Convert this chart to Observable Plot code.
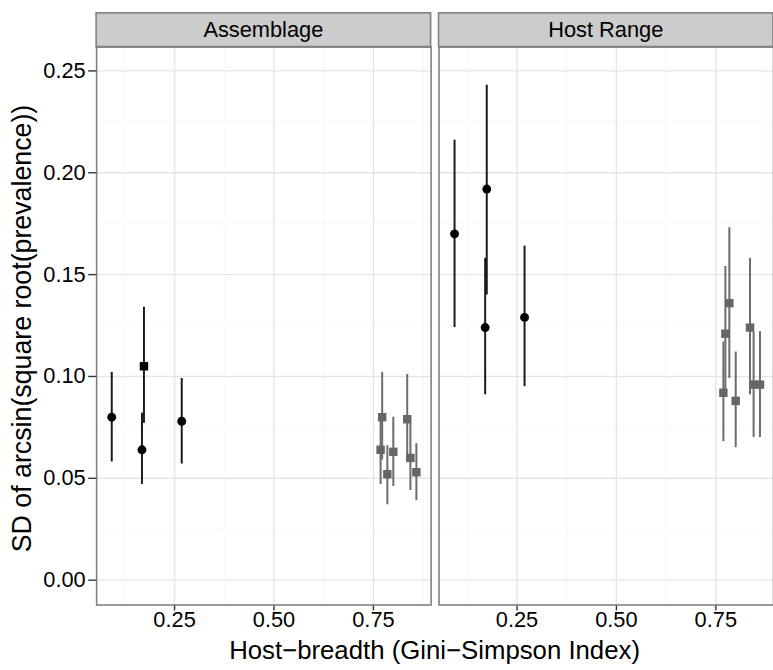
<!DOCTYPE html>
<html>
<head>
<meta charset="utf-8">
<script src="https://cdn.jsdelivr.net/npm/d3@7"></script>
<script src="https://cdn.jsdelivr.net/npm/@observablehq/plot@0.6"></script>
<style>
  html, body { margin: 0; padding: 0; background: #fff; overflow: hidden; }
  #chart { width: 773px; height: 670px; overflow: hidden; }
</style>
</head>
<body>
<div id="chart"></div>
<script>
// Facet panels
const panels = ["Assemblage", "Host Range"];

// Assemblage: narrow host-breadth parasites (black)
const asmDarkX  = [0.092, 0.173, 0.168, 0.268];
const asmDarkY  = [0.080, 0.105, 0.064, 0.078];
const asmDarkLo = [0.058, 0.077, 0.047, 0.057];
const asmDarkHi = [0.102, 0.134, 0.082, 0.099];
const asmDarkShape = ["circle", "square", "circle", "circle"];

// Assemblage: broad host-breadth parasites (grey)
const asmGreyX  = [0.772, 0.768, 0.785, 0.800, 0.835, 0.843, 0.858];
const asmGreyY  = [0.080, 0.064, 0.052, 0.063, 0.079, 0.060, 0.053];
const asmGreyLo = [0.059, 0.047, 0.037, 0.046, 0.058, 0.044, 0.039];
const asmGreyHi = [0.102, 0.078, 0.066, 0.080, 0.101, 0.077, 0.067];

// Host Range: narrow host-breadth parasites (black)
const hostDarkX  = [0.093, 0.174, 0.170, 0.269];
const hostDarkY  = [0.170, 0.192, 0.124, 0.129];
const hostDarkLo = [0.124, 0.140, 0.091, 0.095];
const hostDarkHi = [0.216, 0.243, 0.158, 0.164];
const hostDarkShape = ["circle", "circle", "circle", "circle"];

// Host Range: broad host-breadth parasites (grey)
const hostGreyX  = [0.769, 0.774, 0.784, 0.800, 0.836, 0.845, 0.861];
const hostGreyY  = [0.092, 0.121, 0.136, 0.088, 0.124, 0.096, 0.096];
const hostGreyLo = [0.068, 0.091, 0.099, 0.065, 0.091, 0.070, 0.070];
const hostGreyHi = [0.117, 0.154, 0.173, 0.112, 0.158, 0.122, 0.122];

// Axis ticks
const xTicks = [0.25, 0.50, 0.75];
const xMinor = [0.125, 0.375, 0.625, 0.875];
const yTicks = [0.00, 0.05, 0.10, 0.15, 0.20, 0.25];
const yMinor = [0.025, 0.075, 0.125, 0.175, 0.225];

const xTitle = "Host\u2212breadth (Gini\u2212Simpson Index)";
const yTitle = "SD of arcsin(square root(prevalence))";

function build(panel, xs, ys, lo, hi, shapes) {
  return xs.map((x, i) => ({
    panel, x, y: ys[i], lo: lo[i], hi: hi[i],
    shape: shapes ? shapes[i] : "square"
  }));
}

const dark = [
  ...build(panels[0], asmDarkX, asmDarkY, asmDarkLo, asmDarkHi, asmDarkShape),
  ...build(panels[1], hostDarkX, hostDarkY, hostDarkLo, hostDarkHi, hostDarkShape)
];
const grey = [
  ...build(panels[0], asmGreyX, asmGreyY, asmGreyLo, asmGreyHi),
  ...build(panels[1], hostGreyX, hostGreyY, hostGreyLo, hostGreyHi)
];

const font = "'Liberation Sans', Arial, sans-serif";
const fmt = d3.format(".2f");

const chart = Plot.plot({
  width: 780,
  height: 670,
  marginLeft: 97,
  marginRight: 0,
  marginTop: 47,
  marginBottom: 60,
  style: { fontFamily: font, fontSize: "22px", background: "#fff", color: "#000" },
  fx: { domain: panels, paddingInner: 0.0232, paddingOuter: 0, round: false, axis: null, label: null },
  x: { domain: [0.054, 0.895], label: null },
  y: { domain: [-0.0122, 0.2617], label: null },
  marks: [
    Plot.gridX(xMinor, { stroke: "#f7f7f7", strokeOpacity: 1, strokeWidth: 1.2 }),
    Plot.gridY(yMinor, { stroke: "#f7f7f7", strokeOpacity: 1, strokeWidth: 1.2 }),
    Plot.gridX(xTicks, { stroke: "#e5e5e5", strokeOpacity: 1, strokeWidth: 1.4 }),
    Plot.gridY(yTicks, { stroke: "#e5e5e5", strokeOpacity: 1, strokeWidth: 1.4 }),
    Plot.axisX({ ticks: xTicks, tickFormat: fmt, tickSize: 6, tickPadding: 1, stroke: "#333", strokeWidth: 1.4, label: null, fontSize: 22 }),
    Plot.axisY({ ticks: yTicks, tickFormat: fmt, tickSize: 8, tickPadding: 3, stroke: "#333", strokeWidth: 1.4, label: null, fontSize: 22 }),
    // error bars
    Plot.ruleX(grey, { x: "x", y1: "lo", y2: "hi", fx: "panel", stroke: "#6b6b6b", strokeWidth: 2 }),
    Plot.ruleX(dark, { x: "x", y1: "lo", y2: "hi", fx: "panel", stroke: "#1a1a1a", strokeWidth: 2 }),
    // points
    Plot.dot(grey, { x: "x", y: "y", fx: "panel", symbol: "square", r: 4.8, fill: "#666", stroke: "none" }),
    Plot.dot(dark.filter(d => d.shape === "circle"), { x: "x", y: "y", fx: "panel", symbol: "circle", r: 4.5, fill: "#000", stroke: "none" }),
    Plot.dot(dark.filter(d => d.shape === "square"), { x: "x", y: "y", fx: "panel", symbol: "square", r: 4.8, fill: "#000", stroke: "none" }),
    Plot.frame({ stroke: "#7f7f7f", strokeWidth: 1.6 })
  ]
});

document.getElementById("chart").appendChild(chart);

// Facet strips and axis titles
const fxs = chart.scale("fx");
const band = d3.scaleBand(fxs.domain, fxs.range)
  .paddingInner(fxs.paddingInner ?? 0.0232)
  .paddingOuter(fxs.paddingOuter ?? 0)
  .align(fxs.align ?? 0.5);

const svg = d3.select(chart);
const stripTop = 13, stripBottom = 47;
const strips = svg.append("g");
panels.forEach(p => {
  const x0 = band(p), w = band.bandwidth();
  strips.append("rect")
    .attr("x", x0).attr("y", stripTop)
    .attr("width", w).attr("height", stripBottom - stripTop)
    .attr("fill", "#cccccc").attr("stroke", "#7f7f7f").attr("stroke-width", 1.6);
  strips.append("text")
    .attr("x", x0 + w / 2).attr("y", (stripTop + stripBottom) / 2)
    .attr("text-anchor", "middle").attr("dominant-baseline", "central")
    .attr("font-family", font).attr("font-size", 22).attr("fill", "#000")
    .text(p);
});

const left = band(panels[0]);
const right = band(panels[1]) + band.bandwidth();
svg.append("text")
  .attr("x", (left + right) / 2).attr("y", 655.5)
  .attr("text-anchor", "middle").attr("dominant-baseline", "central")
  .attr("font-family", font).attr("font-size", 26).attr("fill", "#000")
  .text(xTitle);

svg.append("text")
  .attr("transform", `translate(22,${(47 + 610) / 2 + 3}) rotate(-90)`)
  .attr("text-anchor", "middle").attr("dominant-baseline", "central")
  .attr("font-family", font).attr("font-size", 27).attr("fill", "#000")
  .text(yTitle);
</script>
</body>
</html>
